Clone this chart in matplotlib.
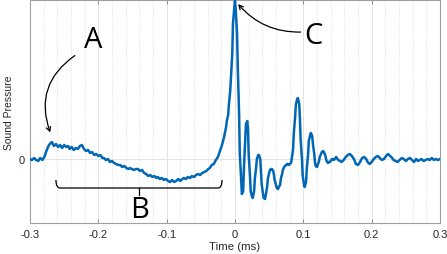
import numpy as np
import matplotlib
matplotlib.use("Agg")
import matplotlib.pyplot as plt
from matplotlib.patches import FancyArrowPatch, PathPatch
from matplotlib.path import Path
from matplotlib.ticker import MultipleLocator

# time in microseconds, pressure in arbitrary units (0 = ambient)
t_pre = [-300, -297, -294, -291, -288, -285, -282, -279, -276, -273,
         -271, -268, -265, -262, -259, -256, -253, -250, -247, -244,
         -242, -239, -236, -233, -230, -227, -224, -221, -218, -215,
         -212, -209, -206, -203, -200, -197, -194, -192, -189, -186,
         -183, -180, -177, -174, -171, -168, -165, -162, -159, -156,
         -154, -151, -148, -145, -142, -139, -136, -133, -130, -127,
         -124, -121, -118, -115, -113, -110, -107, -104, -101, -98,
         -95, -92, -89, -86, -83, -80, -77, -75, -72, -69,
         -66, -63, -60, -57, -54, -51, -48, -45, -42, -39,
         -37, -34, -31, -28, -25, -22, -19, -16]
p_pre = [0, -1, 1, -1, -2, 1, -1, 2, 8, 13,
         15, 17, 13, 15, 12, 14, 11, 14, 12, 13,
         10, 12, 9, 11, 10, 13, 14, 10, 8, 9,
         6, 7, 4, 5, 3, 4, 1, 1, -1, 0,
         -3, -2, -4, -5, -6, -6, -8, -7, -9, -10,
         -9, -10, -11, -10, -10, -12, -11, -14, -15, -17,
         -16, -18, -17, -19, -18, -20, -19, -21, -20, -22,
         -23, -21, -23, -22, -20, -22, -20, -19, -20, -18,
         -19, -17, -18, -16, -15, -16, -14, -13, -12, -10,
         -9, -6, -5, -1, 2, 8, 14, 22]

t_main = [-13, -12, -10, -9, -7, -6, -4, -3, -1, 0,
          1, 3, 4, 6, 7, 9, 10, 12, 13, 15,
          16, 18, 19, 20, 22, 23, 25, 26, 28, 29,
          31, 32, 34, 35, 37, 38, 39, 41, 42, 44,
          45, 47, 48, 50, 51, 53, 54, 56, 57, 58,
          60, 61, 63, 64, 66, 67, 69, 70, 72, 73,
          75, 76, 77, 79, 80, 82, 83, 85, 86, 88,
          89, 91, 92, 94, 95, 96, 98, 99, 101, 102,
          104, 105, 107, 108, 110, 111, 113, 114, 116, 117,
          118, 120, 121, 123, 124, 126, 127, 129, 130, 132,
          133, 134, 136, 137, 139, 140, 142, 143, 145, 146,
          148, 149]
p_main = [32, 38, 44, 54, 68, 80, 105, 135, 152, 158,
          150, 125, 93, 45, 5, -20, -35, -32, -10, 20,
          35, 38, 30, 5, -18, -32, -38, -39, -32, -20,
          -8, 0, 4, 4, 0, -12, -25, -35, -39, -40,
          -36, -28, -20, -14, -11, -10, -10, -12, -16, -21,
          -26, -29, -30, -28, -26, -20, -15, -11, -8, -7,
          -6, -5, -5, -6, -5, -4, 0, 10, 25, 42,
          54, 60, 61, 55, 40, 20, 0, -16, -26, -28,
          -23, -10, 5, 18, 24, 26, 23, 15, 5, -3,
          -7, -8, -6, -2, 2, 5, 7, 8, 7, 4,
          1, -2, -4, -3, -3, -2, 0, 0, -1, 0,
          2, 1]

t_tail = [151, 154, 156, 159, 162, 165, 168, 171, 174, 177,
          180, 183, 186, 189, 192, 194, 197, 200, 203, 206,
          209, 212, 215, 218, 221, 224, 227, 230, 232, 235,
          238, 241, 244, 247, 250, 253, 256, 259, 262, 265,
          268, 270, 273, 276, 279, 282, 285, 288, 291, 294,
          297, 300]
p_tail = [-1, -2, -3, -1, 2, 4, 5, 3, 0, -5,
          -6, -3, 1, 2, 0, -3, -5, -3, 0, 2,
          3, 1, -1, 0, 3, 5, 3, 1, -1, -2,
          -3, -1, 1, 0, -2, 0, 1, -1, -3, 0,
          -2, -1, 0, -2, -1, 0, -1, 1, -1, 0,
          -1, 0]

x_ticks = [-0.3, -0.2, -0.1, 0, 0.1, 0.2, 0.3]
x_labels = ["-0.3", "-0.2", "-0.1", "0", "0.1", "0.2", "0.3"]

time_ms = np.array(t_pre + t_main + t_tail) / 1000.0
pressure = np.array(p_pre + p_main + p_tail)

fig = plt.figure(figsize=(4.47, 2.55), dpi=100)
ax = fig.add_axes([30 / 447, 31 / 255, 410 / 447, 223 / 255])

ax.plot(time_ms, pressure, color="#0066b6", lw=1.8, solid_joinstyle="round", zorder=3)

ax.set_xlim(-0.3, 0.3)
ax.set_ylim(-64, 159)
ax.set_xticks(x_ticks)
ax.set_xticklabels(x_labels)
ax.xaxis.set_minor_locator(MultipleLocator(0.02))
ax.set_yticks([0])
ax.set_yticklabels(["0"])

ax.grid(which="major", axis="both", color="#e3e3e3", lw=0.7, zorder=0)
ax.grid(which="minor", axis="x", color="#d4d4d4", lw=0.6, ls=(0, (1, 2)), zorder=0)
ax.set_axisbelow(True)

for s in ax.spines.values():
    s.set_color("#a0a0a0")
    s.set_linewidth(0.8)
ax.tick_params(which="major", direction="in", length=3, width=0.7, color="#909090",
               labelsize=8, labelcolor="#262626", top=True, right=False, pad=4)
ax.tick_params(which="minor", length=0)
for lab in ax.get_xticklabels() + ax.get_yticklabels():
    lab.set_family("Liberation Sans")

ax.set_xlabel("Time (ms)", fontsize=8.2, family="Liberation Sans", color="#262626", labelpad=2)
ax.set_ylabel("Sound Pressure", fontsize=7.5, family="Liberation Sans", color="#262626", labelpad=3)

# annotations
letter_kw = dict(fontsize=21, family="Open Sans", color="black", ha="center", va="center")
ax.text(-0.208, 119, "A", **letter_kw)
ax.text(-0.139, -51, "B", **letter_kw)
ax.text(0.114, 124, "C", **letter_kw)

arrow_a = FancyArrowPatch((-0.231, 105), (-0.269, 24), connectionstyle="arc3,rad=0.4",
                          arrowstyle="->,head_length=3,head_width=1.6", color="black", lw=0.9,
                          zorder=4)
ax.add_patch(arrow_a)
arrow_c = FancyArrowPatch((0.100, 127), (0.002, 157), connectionstyle="arc3,rad=-0.25",
                          arrowstyle="->,head_length=3,head_width=1.6", color="black", lw=0.9,
                          zorder=4)
ax.add_patch(arrow_c)

# curly brace under region B
bx0, bx1, bxm = -0.262, -0.019, -0.140
by_top, by_line, by_tip = -21, -29, -36
r = 0.006
verts = [(bx0, by_top), (bx0, by_line), (bx0 + r, by_line),
         (bx1 - r, by_line), (bx1, by_line), (bx1, by_top)]
codes = [Path.MOVETO, Path.CURVE3, Path.CURVE3, Path.LINETO, Path.CURVE3, Path.CURVE3]
ax.add_patch(PathPatch(Path(verts, codes), fill=False, color="black", lw=0.9, zorder=4))
ax.plot([bxm, bxm], [by_line, by_tip], color="black", lw=0.9, zorder=4)

fig.savefig("out.png", dpi=100)
